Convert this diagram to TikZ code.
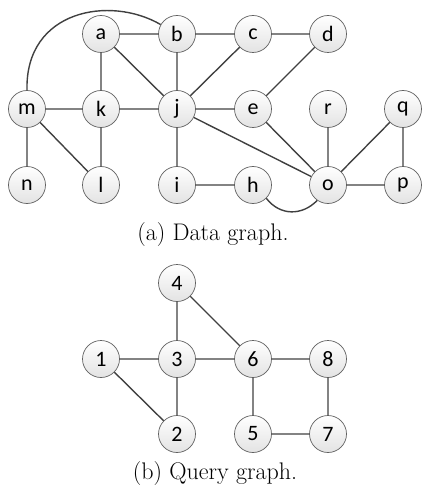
\documentclass[tikz,border=0pt]{standalone}
\usepackage{fontspec}
\newfontfamily\nodefont{Carlito}
\begin{document}
\begin{tikzpicture}[x=1pt,y=-1pt,
  vtx/.style={circle,draw=gray!75!black,line width=0.7pt,minimum size=37pt,inner sep=0pt,
    top color=white,bottom color=gray!22,font=\nodefont\fontsize{22}{22}\selectfont},
  edge/.style={draw=black!75,line width=1.4pt},
  captxt/.style={font=\fontsize{24}{24}\selectfont}]
\useasboundingbox (0,0) rectangle (422,489);
% data graph
\node[vtx] (a) at (101,34) {a};
\node[vtx] (b) at (177,34) {b};
\node[vtx] (c) at (253,34) {c};
\node[vtx] (d) at (328,34) {d};
\node[vtx] (m) at (27,109) {m};
\node[vtx] (k) at (101,109) {k};
\node[vtx] (j) at (177,109) {j};
\node[vtx] (e) at (253,109) {e};
\node[vtx] (r) at (328,109) {r};
\node[vtx] (q) at (403,109) {q};
\node[vtx] (n) at (27,185) {n};
\node[vtx] (l) at (101,185) {l};
\node[vtx] (i) at (177,185) {i};
\node[vtx] (h) at (253,185) {h};
\node[vtx] (o) at (328,185) {o};
\node[vtx] (p) at (403,185) {p};
\node[captxt] (capa) at (213,235) {(a) Data graph.};
% query graph
\node[vtx] (q4) at (177,283) {4};
\node[vtx] (q1) at (101,359) {1};
\node[vtx] (q3) at (177,359) {3};
\node[vtx] (q6) at (253,359) {6};
\node[vtx] (q8) at (328,359) {8};
\node[vtx] (q2) at (177,434) {2};
\node[vtx] (q5) at (253,434) {5};
\node[vtx] (q7) at (328,434) {7};
\node[captxt] (capb) at (215,474) {(b) Query graph.};
% edges
\path[edge] (a)--(b) (b)--(c) (c)--(d) (a)--(k) (a)--(j) (b)--(j) (c)--(j) (d)--(e)
  (m)--(k) (k)--(j) (j)--(e) (j)--(o) (j)--(i) (m)--(n) (m)--(l) (k)--(l)
  (e)--(o) (r)--(o) (q)--(o) (q)--(p) (o)--(p) (i)--(h);
\path[edge] (m.north) .. controls (25,10) and (110,-5) .. (b.150);
\path[edge] (h.-45) .. controls (280,216) and (302,216) .. (o.-125);
\path[edge] (q4)--(q3) (q4)--(q6) (q1)--(q3) (q3)--(q6) (q6)--(q8) (q1)--(q2)
  (q3)--(q2) (q6)--(q5) (q8)--(q7) (q5)--(q7);
\end{tikzpicture}
\end{document}
